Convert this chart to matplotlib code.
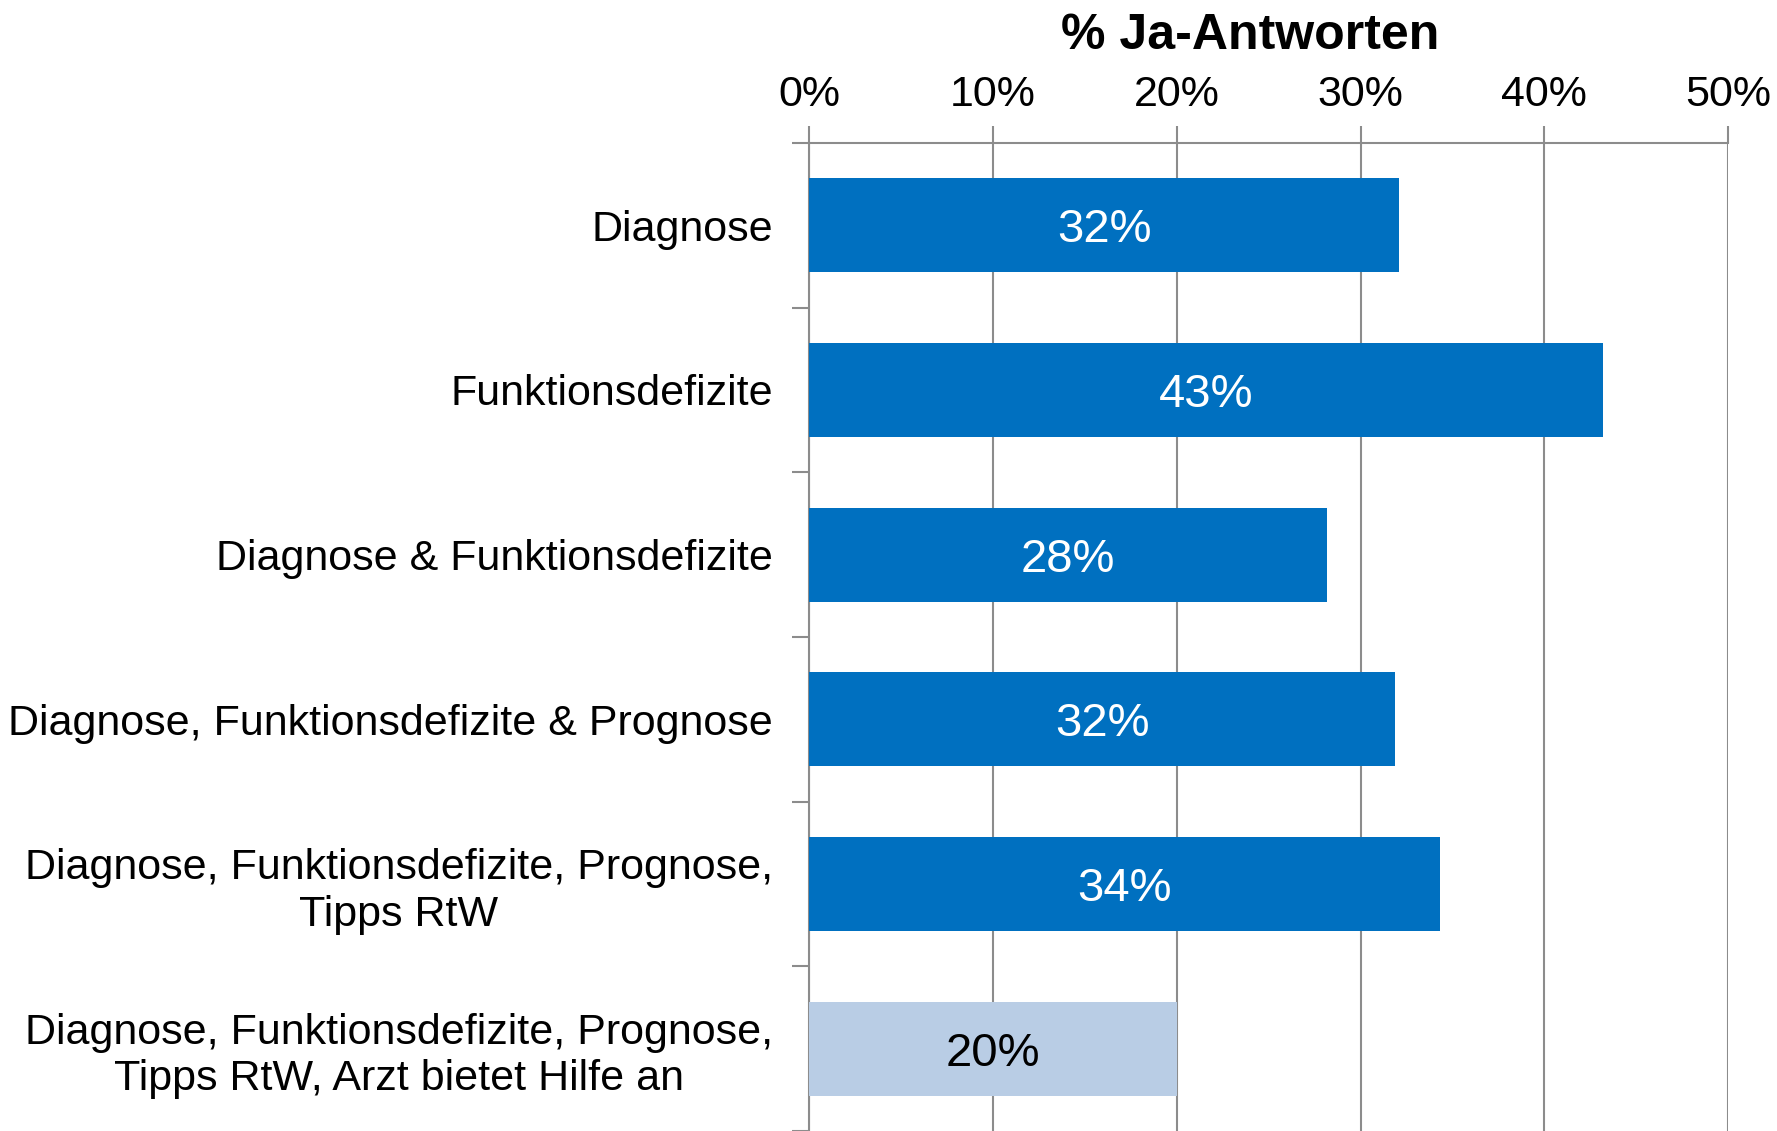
import numpy as np
import matplotlib.pyplot as plt

categories = [
    'Diagnose',
    'Funktionsdefizite',
    'Diagnose & Funktionsdefizite',
    'Diagnose, Funktionsdefizite & Prognose',
    'Diagnose, Funktionsdefizite, Prognose,\nTipps RtW',
    'Diagnose, Funktionsdefizite, Prognose,\nTipps RtW, Arzt bietet Hilfe an',
]
values = [32.1, 43.2, 28.2, 31.9, 34.3, 20.0]
labels = ['32%', '43%', '28%', '32%', '34%', '20%']
colors = ['#0070C0'] * 5 + ['#B9CDE5']
text_colors = ['white'] * 5 + ['black']

plt.rcParams['font.family'] = ['Liberation Sans', 'DejaVu Sans']

fig = plt.figure(figsize=(17.77, 11.31), dpi=100)
ax = fig.add_axes([0.4553, 0.0, 0.9725 - 0.4553, 0.8736])

y = np.arange(len(categories))
ax.barh(y, values, height=0.57, color=colors, zorder=3)

for yi, v, lab, tc in zip(y, values, labels, text_colors):
    ax.text(v / 2, yi, lab, ha='center', va='center_baseline', fontsize=34, color=tc, zorder=4)

ax.set_xlim(0, 50)
ax.set_ylim(len(categories) - 0.5, -0.5)

ax.set_xticks(np.arange(0, 51, 10))
ax.set_xticklabels([f'{t}%' for t in range(0, 51, 10)])
ax.xaxis.tick_top()
ax.tick_params(axis='x', which='major', labelsize=31, direction='out', length=12,
               width=1.5, color='#8c8c8c', pad=8)

ax.set_yticks(y)
ax.set_yticklabels(categories, fontsize=31, multialignment='center', linespacing=1.2)
ax.set_yticks(np.arange(-0.5, len(categories) - 0.4, 1), minor=True)
ax.tick_params(axis='y', which='major', length=0, pad=26)
ax.tick_params(axis='y', which='minor', direction='out', length=12, width=1.5, color='#8c8c8c')

ax.grid(axis='x', color='#8c8c8c', linewidth=1.5, zorder=0)
for side in ['right', 'bottom']:
    ax.spines[side].set_visible(False)
for side in ['top', 'left']:
    ax.spines[side].set_color('#8c8c8c')
    ax.spines[side].set_linewidth(1.5)

fig.text(0.7034, 0.968, '% Ja-Antworten', fontsize=36, fontweight='bold',
         ha='center', va='center')

plt.savefig('out.png', dpi=100)
plt.close()
